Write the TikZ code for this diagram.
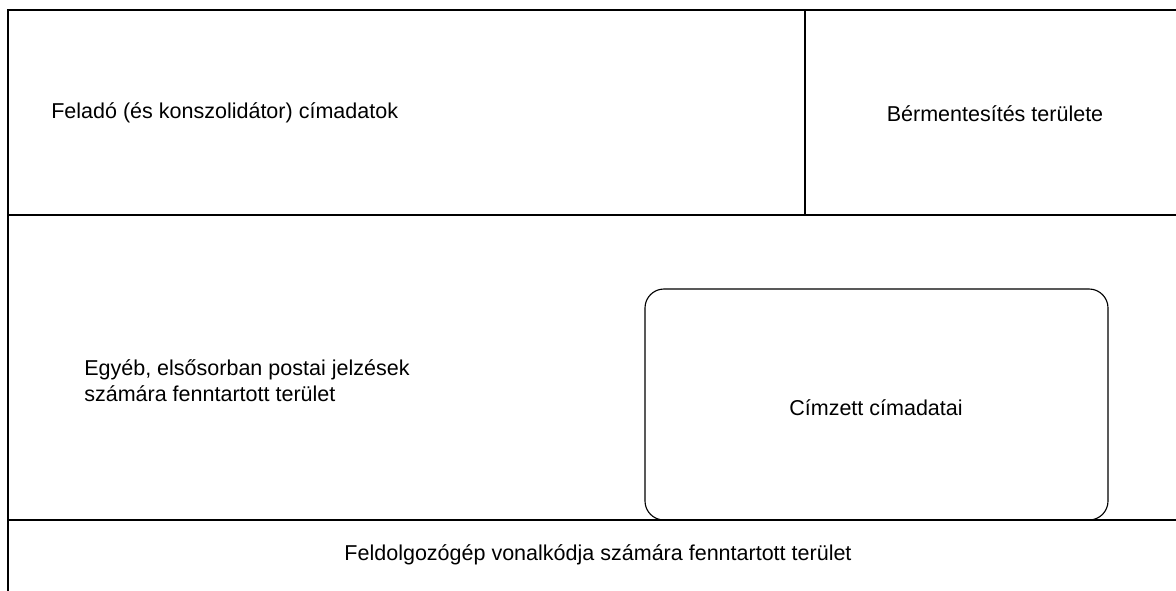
\documentclass[tikz,border=0pt]{standalone}
\usepackage{fontspec}
\setmainfont{Liberation Sans}
\usetikzlibrary{calc}

\begin{document}
\begin{tikzpicture}[x=0.025cm,y=-0.025cm,
        label text/.style={font=\fontsize{15.3}{18.4}\selectfont,inner sep=0pt}]
        \useasboundingbox (0,0) rectangle (1176,591);
        % frame
        \draw[line width=1.4pt] (8,591) -- (8,10) -- (1176,10);
        \foreach \y in {215, 520}
            \draw[line width=0.8pt] (8,\y) -- (1176,\y);
        \draw[line width=0.8pt] (805,10) -- (805,215);
        \draw[line width=0.8pt,rounded corners=13.5pt] (645,289) rectangle (1108,520);
        % texts
        \node[label text,anchor=west] (sender) at (51,113) {Feladó (és konszolidátor) címadatok};
        \node[label text] (franking) at (995,114) {Bérmentesítés területe};
        \node[label text,anchor=west,align=left] (other) at (84,381) {Egyéb, elsősorban postai jelzések\\számára fenntartott terület};
        \node[label text] (recipient) at (876,408) {Címzett címadatai};
        \node[label text] (barcode) at (598,555) {Feldolgozógép vonalkódja számára fenntartott terület};
\end{tikzpicture}
\end{document}
